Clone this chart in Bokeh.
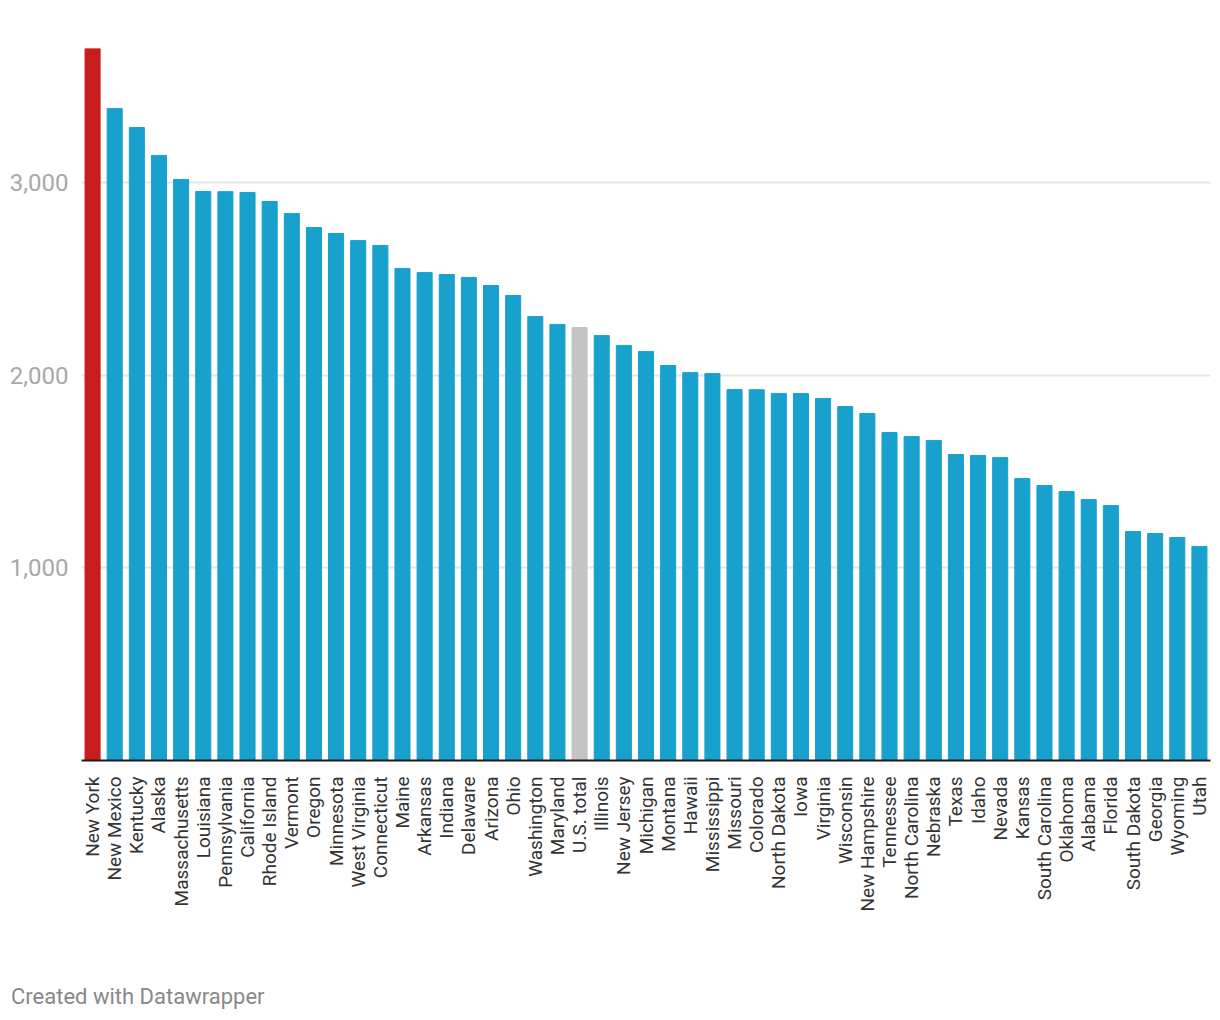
from bokeh.plotting import figure
from bokeh.models import ColumnDataSource, Range1d, FactorRange, NumeralTickFormatter, FixedTicker, Div
from bokeh.layouts import column
from bokeh.embed import file_html
from bokeh.resources import INLINE
import math

states = ["New York", "New Mexico", "Kentucky", "Alaska", "Massachusetts", "Louisiana",
          "Pennsylvania", "California", "Rhode Island", "Vermont", "Oregon", "Minnesota",
          "West Virginia", "Connecticut", "Maine", "Arkansas", "Indiana", "Delaware",
          "Arizona", "Ohio", "Washington", "Maryland", "U.S. total", "Illinois",
          "New Jersey", "Michigan", "Montana", "Hawaii", "Mississippi", "Missouri",
          "Colorado", "North Dakota", "Iowa", "Virginia", "Wisconsin", "New Hampshire",
          "Tennessee", "North Carolina", "Nebraska", "Texas", "Idaho", "Nevada", "Kansas",
          "South Carolina", "Oklahoma", "Alabama", "Florida", "South Dakota", "Georgia",
          "Wyoming", "Utah"]
values = [3695, 3383, 3285, 3140, 3015, 2953, 2952, 2948, 2901, 2839, 2766, 2735,
          2698, 2673, 2553, 2532, 2522, 2507, 2465, 2413, 2304, 2263, 2247, 2205,
          2154, 2122, 2050, 2013, 2008, 1925, 1924, 1905, 1904, 1879, 1837, 1801,
          1702, 1681, 1661, 1588, 1583, 1572, 1463, 1427, 1396, 1354, 1323, 1188, 1178,
          1157, 1111]
highlight = {"New York": "#c71e1d", "U.S. total": "#c4c4c4"}
base_color = "#18a1cd"
y_ticks = [1000, 2000, 3000]
footer_text = "Created with Datawrapper"

colors = [highlight.get(s, base_color) for s in states]
src = ColumnDataSource(data=dict(state=states, value=values, color=colors))

p = figure(x_range=FactorRange(*states, range_padding=0), y_range=Range1d(0, max(values)),
           width=1212, height=940, output_backend="svg", toolbar_location=None,
           min_border_left=81, min_border_right=2, min_border_top=48, min_border_bottom=180)
p.vbar(x="state", top="value", width=0.68, color="color", source=src)

p.outline_line_color = None
p.background_fill_color = "white"
p.border_fill_color = "white"

p.xgrid.grid_line_color = None
p.ygrid.grid_line_color = "#e6e6e6"
p.ygrid.grid_line_width = 2
p.ygrid.ticker = FixedTicker(ticks=y_ticks)

p.yaxis.ticker = FixedTicker(ticks=y_ticks)
p.yaxis.formatter = NumeralTickFormatter(format="0,0")
p.yaxis.axis_line_color = None
p.yaxis.major_tick_line_color = None
p.yaxis.major_tick_out = 0
p.yaxis.minor_tick_line_color = None
p.yaxis.minor_tick_out = 0
p.yaxis.major_label_text_font = "Roboto"
p.yaxis.major_label_text_font_size = "24px"
p.yaxis.major_label_text_color = "#a8a8a8"
p.yaxis.major_label_standoff = 13

p.xaxis.axis_line_color = "#1d1d1d"
p.xaxis.axis_line_width = 2
p.xaxis.major_tick_line_color = None
p.xaxis.major_tick_out = 0
p.xaxis.minor_tick_line_color = None
p.xaxis.minor_tick_out = 0
p.xaxis.major_label_orientation = math.pi / 2
p.xaxis.major_label_text_font = "Roboto"
p.xaxis.major_label_text_font_size = "19px"
p.xaxis.major_label_text_color = "#333333"
p.xaxis.major_label_standoff = 16

footer = Div(text=footer_text, width=400, height=30, margin=(44, 0, 0, 11),
             styles={"font-family": "Roboto", "font-size": "22px", "color": "#888888",
                     "line-height": "26px"})

layout = column(p, footer, spacing=0)
open("out.html", "w").write(file_html(layout, INLINE))
